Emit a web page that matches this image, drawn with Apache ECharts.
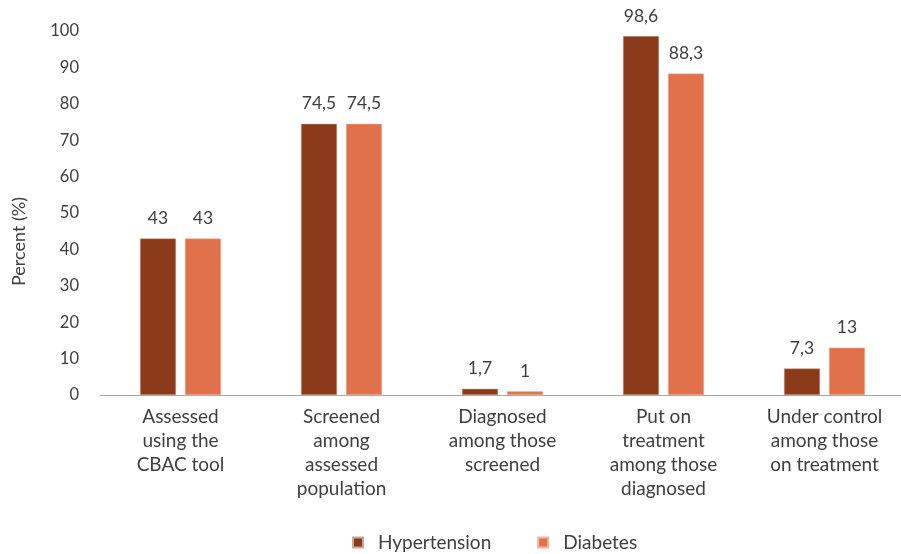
<!DOCTYPE html>
<html>
<head>
<meta charset="utf-8">
<script src="https://cdn.jsdelivr.net/npm/echarts@6/dist/echarts.min.js"></script>
<style>
  html, body { margin: 0; padding: 0; background: #ffffff; overflow: hidden; }
  #chart { width: 906px; height: 554px; }
</style>
</head>
<body>
<div id="chart"></div>
<script>
// Care cascade stages
const categories = [
  'Assessed\nusing the\nCBAC tool',
  'Screened\namong\nassessed\npopulation',
  'Diagnosed\namong those\nscreened',
  'Put on\ntreatment\namong those\ndiagnosed',
  'Under control\namong those\non treatment'
];
const hypertension = [43, 74.5, 1.7, 98.6, 7.3];
const diabetes = [43, 74.5, 1, 88.3, 13];
const yTicks = [0, 10, 20, 30, 40, 50, 60, 70, 80, 90, 100];

const FONT = 'Lato, "Open Sans", sans-serif';
const TEXT = '#404040';

function fmt(v) {
  return String(v).replace('.', ',');
}

const chart = echarts.init(document.getElementById('chart'));
chart.setOption({
  animation: false,
  textStyle: { fontFamily: FONT },
  grid: { left: 100, top: 31, width: 805, height: 364, containLabel: false },
  legend: {
    top: 528,
    left: 347,
    itemWidth: 10,
    itemHeight: 10,
    itemGap: 46,
    icon: 'rect',
    textStyle: { fontFamily: FONT, fontSize: 19, color: TEXT, padding: [0, 0, 0, 10] },
    data: ['Hypertension', 'Diabetes']
  },
  graphic: [{
    type: 'text',
    left: 10,
    top: 197,
    rotation: Math.PI / 2,
    style: { text: 'Percent (%)', fill: TEXT, font: '18px Lato, "Open Sans", sans-serif' }
  }],
  xAxis: {
    type: 'category',
    data: categories,
    axisLine: { lineStyle: { color: '#a6a6a6', width: 1 } },
    axisTick: { show: false },
    axisLabel: {
      interval: 0,
      color: TEXT,
      fontFamily: FONT,
      fontSize: 19,
      lineHeight: 24,
      margin: 10
    }
  },
  yAxis: {
    type: 'value',
    min: yTicks[0],
    max: yTicks[yTicks.length - 1],
    interval: 10,
    axisLine: { show: false },
    axisTick: { show: false },
    splitLine: { show: false },
    axisLabel: { color: TEXT, fontFamily: FONT, fontSize: 16.5, margin: 21 }
  },
  series: [
    {
      name: 'Hypertension',
      type: 'bar',
      data: hypertension,
      barWidth: 36,
      barGap: '25%',
      itemStyle: { color: '#8b3a1a', borderColor: '#c9a99b', borderWidth: 0.5 },
      label: {
        show: true, position: 'top', distance: 11,
        color: TEXT, fontFamily: FONT, fontSize: 17.5,
        formatter: p => fmt(p.value)
      }
    },
    {
      name: 'Diabetes',
      type: 'bar',
      data: diabetes,
      barWidth: 36,
      itemStyle: { color: '#e0714a', borderColor: '#f0b8a3', borderWidth: 0.5 },
      label: {
        show: true, position: 'top', distance: 11,
        color: TEXT, fontFamily: FONT, fontSize: 17.5,
        formatter: p => fmt(p.value)
      }
    }
  ]
});
</script>
</body>
</html>
